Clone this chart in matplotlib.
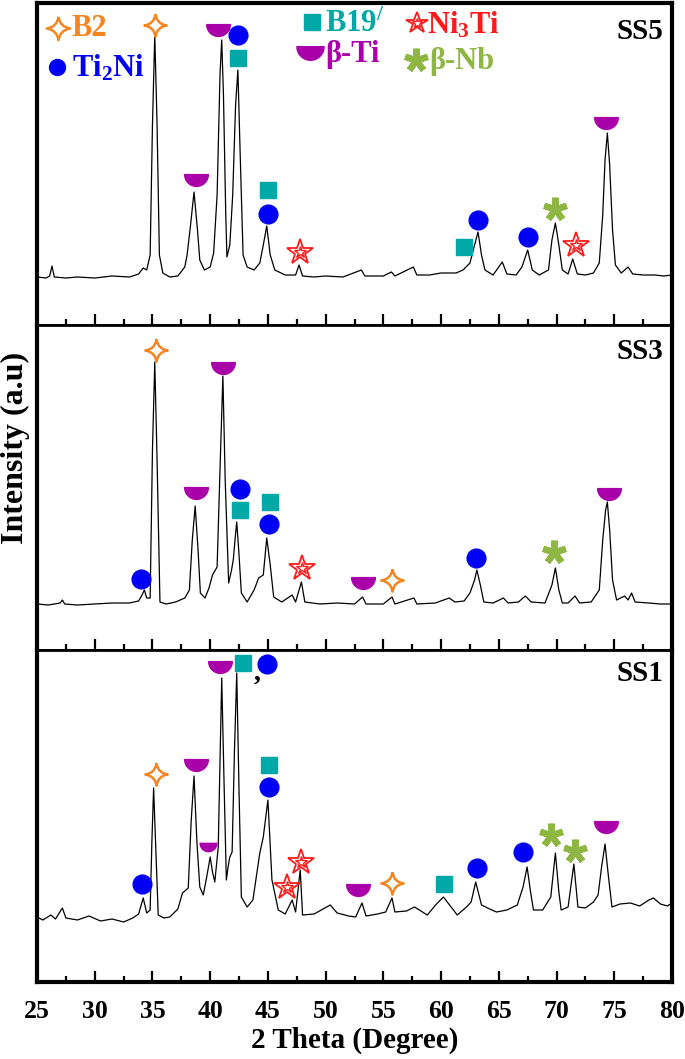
#!/usr/bin/env python3
"""
XRD patterns of SS5, SS3 and SS1 with phase markers.
"""

import numpy as np
import matplotlib
matplotlib.use('Agg')
import matplotlib.pyplot as plt
from matplotlib.path import Path
from matplotlib.ticker import MultipleLocator

# ---- data (2 theta in degrees, intensity in arbitrary units) ----
ss5_tt = [25.0, 25.8, 26.1, 26.3, 26.5, 27.5, 28.5, 30.0, 31.5, 33.0, 33.8, 34.2, 34.5, 34.8,
          35.0, 35.2, 35.4, 35.6, 35.9, 36.5, 37.2, 37.8, 38.0, 38.3, 38.6, 38.9, 39.1, 39.5,
          40.0, 40.3, 40.6, 40.85, 41.0, 41.15, 41.35, 41.45, 41.7, 41.95, 42.2, 42.4, 42.6,
          42.85, 43.2, 43.8, 44.3, 44.6, 44.9, 45.2, 45.6, 46.5, 47.4, 47.7, 48.0, 49.0, 50.0,
          51.5, 53.1, 53.4, 55.0, 55.7, 56.0, 57.6, 57.9, 59.0, 60.0, 61.3, 61.9, 62.5, 62.9,
          63.2, 63.5, 63.8, 64.5, 65.3, 65.7, 66.5, 67.0, 67.5, 67.9, 68.5, 69.3, 69.6, 69.9,
          70.2, 70.5, 71.0, 71.4, 71.8, 72.5, 73.2, 73.7, 74.0, 74.2, 74.4, 74.6, 74.85, 75.1,
          75.6, 76.2, 76.6, 77.5, 78.5, 79.3, 80.0]
ss5_int = [48, 47, 49, 59, 48, 47, 48, 47, 49, 48, 51, 57, 55, 70,
           200, 290, 200, 70, 52, 48, 49, 58, 70, 100, 133, 95, 65, 55,
           58, 72, 130, 250, 285, 230, 110, 68, 80, 130, 220, 255, 170,
           70, 58, 55, 62, 80, 99, 70, 55, 50, 50, 60, 49, 48, 49,
           48, 55, 49, 49, 53, 49, 58, 50, 50, 52, 52, 55, 62, 80,
           93, 70, 55, 50, 63, 51, 50, 58, 75, 55, 50, 55, 85, 102,
           80, 55, 51, 66, 51, 50, 52, 62, 110, 165, 192, 160, 95, 60,
           52, 58, 51, 50, 50, 49, 50]

ss3_tt = [25.0, 26.0, 27.0, 27.2, 27.4, 28.5, 30.0, 31.5, 33.0, 33.8, 34.1, 34.3, 34.5, 34.8,
          35.0, 35.2, 35.4, 35.65, 36.2, 37.0, 37.8, 38.2, 38.45, 38.7, 38.95, 39.15, 39.55,
          39.9, 40.2, 40.6, 40.85, 41.1, 41.3, 41.6, 41.85, 42.0, 42.15, 42.3, 42.5, 42.7,
          43.2, 43.8, 44.2, 44.6, 44.9, 45.2, 45.5, 46.2, 47.1, 47.4, 47.9, 48.2, 49.5, 51.0,
          52.5, 53.2, 53.5, 55.0, 55.75, 56.0, 57.65, 57.9, 59.5, 60.7, 61.2, 62.0, 62.5,
          62.9, 63.1, 63.4, 63.7, 64.5, 65.4, 65.8, 66.7, 67.3, 67.8, 69.0, 69.6, 69.9, 70.2,
          70.5, 71.0, 71.6, 72.0, 73.0, 73.7, 74.0, 74.25, 74.4, 74.6, 74.85, 75.2, 75.9,
          76.2, 76.5, 76.8, 78.0, 79.0, 80.0]
ss3_int = [46, 45, 47, 50, 46, 45, 46, 47, 47, 49, 55, 60, 52, 52,
           200, 288, 190, 48, 46, 48, 52, 60, 110, 144, 100, 57, 52,
           62, 75, 83, 180, 274, 170, 67, 80, 90, 110, 128, 95, 57,
           48, 60, 72, 75, 112, 85, 53, 48, 55, 48, 68, 48, 46, 47,
           46, 53, 46, 46, 53, 46, 52, 46, 47, 52, 48, 49, 57,
           70, 80, 65, 48, 47, 52, 47, 48, 54, 48, 47, 65, 82, 60,
           47, 47, 54, 47, 48, 60, 110, 140, 148, 120, 70, 50, 54,
           50, 57, 48, 47, 46, 46]

ss1_tt = [25.0, 25.5, 26.2, 26.6, 27.2, 27.5, 28.5, 29.5, 30.5, 31.5, 32.5, 33.3, 33.8, 34.2,
          34.5, 34.8, 34.95, 35.1, 35.3, 35.5, 36.0, 36.5, 37.2, 37.6, 38.1, 38.35, 38.6,
          38.85, 39.1, 39.4, 39.7, 40.0, 40.2, 40.4, 40.7, 40.85, 41.0, 41.2, 41.4, 41.55,
          41.7, 41.9, 42.1, 42.3, 42.5, 42.7, 43.2, 43.7, 44.3, 44.6, 45.0, 45.35, 45.9, 46.5,
          47.1, 47.4, 47.8, 48.0, 49.0, 50.4, 51.0, 52.0, 52.6, 53.15, 53.5, 54.5, 55.2,
          55.75, 56.0, 57.0, 57.7, 58.8, 59.6, 60.2, 60.8, 61.4, 62.2, 62.6, 63.0, 63.5,
          64.2, 64.8, 65.7, 66.6, 67.1, 67.45, 67.75, 68.0, 68.8, 69.5, 69.9, 70.2, 70.4,
          71.0, 71.5, 71.85, 72.5, 73.2, 73.6, 73.9, 74.2, 74.5, 74.8, 75.5, 76.4, 77.2,
          78.0, 78.4, 79.0, 79.6, 80.0]
ss1_int = [65, 62, 67, 63, 74, 64, 62, 66, 61, 63, 60, 64, 68, 84,
           69, 72, 140, 194, 130, 67, 64, 65, 73, 89, 94, 160, 206,
           140, 95, 87, 105, 125, 110, 100, 135, 220, 304, 200, 102, 115,
           125, 130, 230, 309, 190, 85, 75, 82, 129, 145, 182, 102, 72, 68,
           82, 70, 112, 67, 68, 77, 69, 66, 65, 79, 66, 68, 70,
           84, 70, 71, 75, 67, 78, 85, 76, 67, 75, 80, 100, 77,
           73, 70, 72, 77, 95, 115, 90, 72, 72, 85, 129, 90, 72,
           75, 118, 75, 74, 80, 87, 115, 138, 105, 75, 78, 79, 76,
           82, 84, 78, 76, 79]

# phase markers: (phase, 2 theta, intensity)
ss5_marks = [('B2', 35.22, 300), ('bTi', 40.68, 295), ('Ti2Ni', 42.41, 290),
             ('B19', 42.41, 267), ('bTi', 38.77, 145), ('B19', 45.0, 135),
             ('Ti2Ni', 45.0, 111), ('Ni3Ti', 47.78, 73), ('B19', 61.99, 78),
             ('Ti2Ni', 63.2, 105), ('Ti2Ni', 67.53, 88), ('bNb', 69.87, 116),
             ('Ni3Ti', 71.69, 80), ('bTi', 74.29, 202)]
ss3_marks = [('Ti2Ni', 34.01, 71), ('B2', 35.31, 300), ('bTi', 41.11, 282),
             ('bTi', 38.77, 157), ('Ti2Ni', 42.58, 161), ('B19', 42.58, 140),
             ('B19', 45.18, 148), ('Ti2Ni', 45.1, 126), ('Ni3Ti', 47.95, 82),
             ('bTi', 53.24, 67), ('B2', 55.75, 70), ('Ti2Ni', 63.03, 92),
             ('bNb', 69.78, 98), ('bTi', 74.55, 156)]
ss1_marks = [('bTi', 40.85, 315), ('B19', 42.84, 319), ('Ti2Ni', 44.92, 318),
             ('B2', 35.31, 208), ('bTi', 38.77, 217), ('bTi_s', 39.81, 135),
             ('B19', 45.1, 217), ('Ti2Ni', 45.1, 195), ('Ti2Ni', 34.09, 98),
             ('Ni3Ti', 46.65, 95), ('Ni3Ti', 47.87, 120), ('bTi', 52.8, 92),
             ('B2', 55.75, 99), ('B19', 60.25, 98), ('Ti2Ni', 63.11, 114),
             ('Ti2Ni', 67.1, 130), ('bNb', 69.52, 147), ('bNb', 71.6, 131),
             ('bTi', 74.29, 155)]

sample_names = ['SS5', 'SS3', 'SS1']

# legend entries: phase key and label
legend_keys = ['B2', 'Ti2Ni', 'B19', 'bTi', 'Ni3Ti', 'bNb']
legend_labels = ['B2', r'Ti$_2$Ni', r'B19$^{/}$', 'β-Ti', r'Ni$_3$Ti', 'β-Nb']

COLORS = {'B2': '#F7851F', 'Ti2Ni': '#0000F5', 'B19': '#00A8A8',
          'Ni3Ti': '#FF1A1A', 'bTi': '#AA00AA', 'bNb': '#8DB642'}


def four_star():
    c = 0.13
    verts = [(0, 1), (c, c), (1, 0), (c, -c), (0, -1), (-c, -c), (-1, 0), (-c, c), (0, 1)]
    codes = [Path.MOVETO] + [Path.CURVE3] * 8
    return Path(verts, codes)


def half_disc():
    t = np.linspace(np.pi, 2 * np.pi, 40)
    verts = np.column_stack([np.cos(t), np.sin(t) + 0.5])
    verts = np.vstack([verts, verts[:1]])
    return Path(verts, closed=True)


STAR4 = four_star()
HALF = half_disc()


def draw_mark(ax, kind, x, y, scale=1.0, **kw):
    col = COLORS[kind.replace('_s', '')]
    if kind == 'B2':
        ax.plot(x, y, marker=STAR4, ms=16 * scale, mfc='none', mec=col, mew=1.8, ls='none', **kw)
    elif kind == 'Ti2Ni':
        ax.plot(x, y, marker='o', ms=13.5 * scale, color=col, mec=col, ls='none', **kw)
    elif kind == 'B19':
        ax.plot(x, y, marker='s', ms=12 * scale, color=col, mec=col, ls='none', **kw)
    elif kind == 'Ni3Ti':
        ax.plot(x, y, marker='*', ms=19 * scale, mfc='white', mec=col, mew=1.3, ls='none', **kw)
        ax.plot(x, y, marker='*', ms=9 * scale, mfc='none', mec=col, mew=1.0, ls='none', **kw)
    elif kind == 'bTi':
        ax.plot(x, y, marker=HALF, ms=17 * scale, color=col, mec=col, ls='none', **kw)
    elif kind == 'bTi_s':
        ax.plot(x, y, marker=HALF, ms=12 * scale, color=col, mec=col, ls='none', **kw)
    elif kind == 'bNb':
        ax.plot(x, y, marker=(5, 2, 0), ms=17 * scale, mec=col, mew=4.5, ls='none', **kw)


def main():
    plt.rcParams['font.family'] = ['Liberation Serif', 'DejaVu Serif']
    plt.rcParams['font.weight'] = 'bold'
    plt.rcParams['mathtext.fontset'] = 'custom'
    plt.rcParams['mathtext.rm'] = 'Liberation Serif:bold'
    plt.rcParams['mathtext.it'] = 'Liberation Serif:bold'
    plt.rcParams['mathtext.bf'] = 'Liberation Serif:bold'
    plt.rcParams['lines.solid_capstyle'] = 'butt'

    W, H = 685, 1059
    fig = plt.figure(figsize=(W / 100, H / 100), dpi=100)

    # panel edges in pixels from the top
    left, right = 37, 672
    edges = [3, 325, 650, 982]
    curves = [(ss5_tt, ss5_int), (ss3_tt, ss3_int), (ss1_tt, ss1_int)]
    marks = [ss5_marks, ss3_marks, ss1_marks]

    axes = []
    for i in range(3):
        top, bot = edges[i], edges[i + 1]
        ax = fig.add_axes([left / W, 1 - bot / H, (right - left) / W, (bot - top) / H])
        axes.append(ax)
        tt, inten = curves[i]
        ax.plot(tt, inten, color='black', lw=0.9)
        for kind, x, y in marks[i]:
            draw_mark(ax, kind, x, y)
        ax.set_xlim(25, 80)
        ax.set_ylim(0, bot - top)
        ax.set_yticks([])
        ax.xaxis.set_major_locator(MultipleLocator(5))
        ax.xaxis.set_minor_locator(MultipleLocator(2.5))
        ax.tick_params(axis='x', which='both', direction='in', top=False, width=1.6)
        ax.tick_params(axis='x', which='major', length=8)
        ax.tick_params(axis='x', which='minor', length=4)
        for s in ax.spines.values():
            s.set_linewidth(2.0)
        ax.spines['left'].set_linewidth(3.0)
        ax.spines['right'].set_linewidth(3.0)
        ax.text(0.986, [0.91, 0.917, 0.93][i], sample_names[i], transform=ax.transAxes,
                ha='right', va='center', fontsize=21, fontweight='bold')
        if i < 2:
            ax.tick_params(axis='x', labelbottom=False)

    axes[0].spines['top'].set_linewidth(3.0)
    axes[2].spines['bottom'].set_linewidth(3.0)
    axes[2].tick_params(axis='x', labelsize=18.5, pad=13)

    # comma between the B19' and Ti2Ni markers in SS1
    axes[2].text(44.06, 309, ',', ha='center', va='center', fontsize=20, fontweight='bold')

    # legend drawn in the top panel
    ax = axes[0]
    leg_pos = [(0.033, 0.922), (0.0315, 0.80), (0.433, 0.941),
               (0.43, 0.845), (0.598, 0.938), (0.597, 0.823)]
    txt_x = [0.055, 0.055, 0.4535, 0.4535, 0.614, 0.617]
    txt_y = [0.922, 0.798, 0.932, 0.839, 0.932, 0.817]
    leg_scale = {'B2': 1.05, 'Ti2Ni': 0.85, 'B19': 0.95, 'bTi': 1.15, 'Ni3Ti': 0.85, 'bNb': 1.0}
    for k, lab, (mx, my), tx, ty in zip(legend_keys, legend_labels, leg_pos, txt_x, txt_y):
        draw_mark(ax, k, mx, my, scale=leg_scale[k], transform=ax.transAxes, clip_on=False)
        ax.text(tx, ty, lab, transform=ax.transAxes, ha='left', va='center',
                fontsize=22, fontweight='bold', color=COLORS[k])

    fig.text((left + right) / 2 / W, 1 - 1040 / H, '2 Theta (Degree)', ha='center',
             va='center', fontsize=21, fontweight='bold')
    fig.text(15 / W, 1 - 448 / H, 'Intensity (a.u)', rotation=90, ha='center', va='center',
             fontsize=23, fontweight='bold')

    fig.savefig('out.png', dpi=100)
    print("Saved: out.png")
    plt.close(fig)


if __name__ == '__main__':
    main()
